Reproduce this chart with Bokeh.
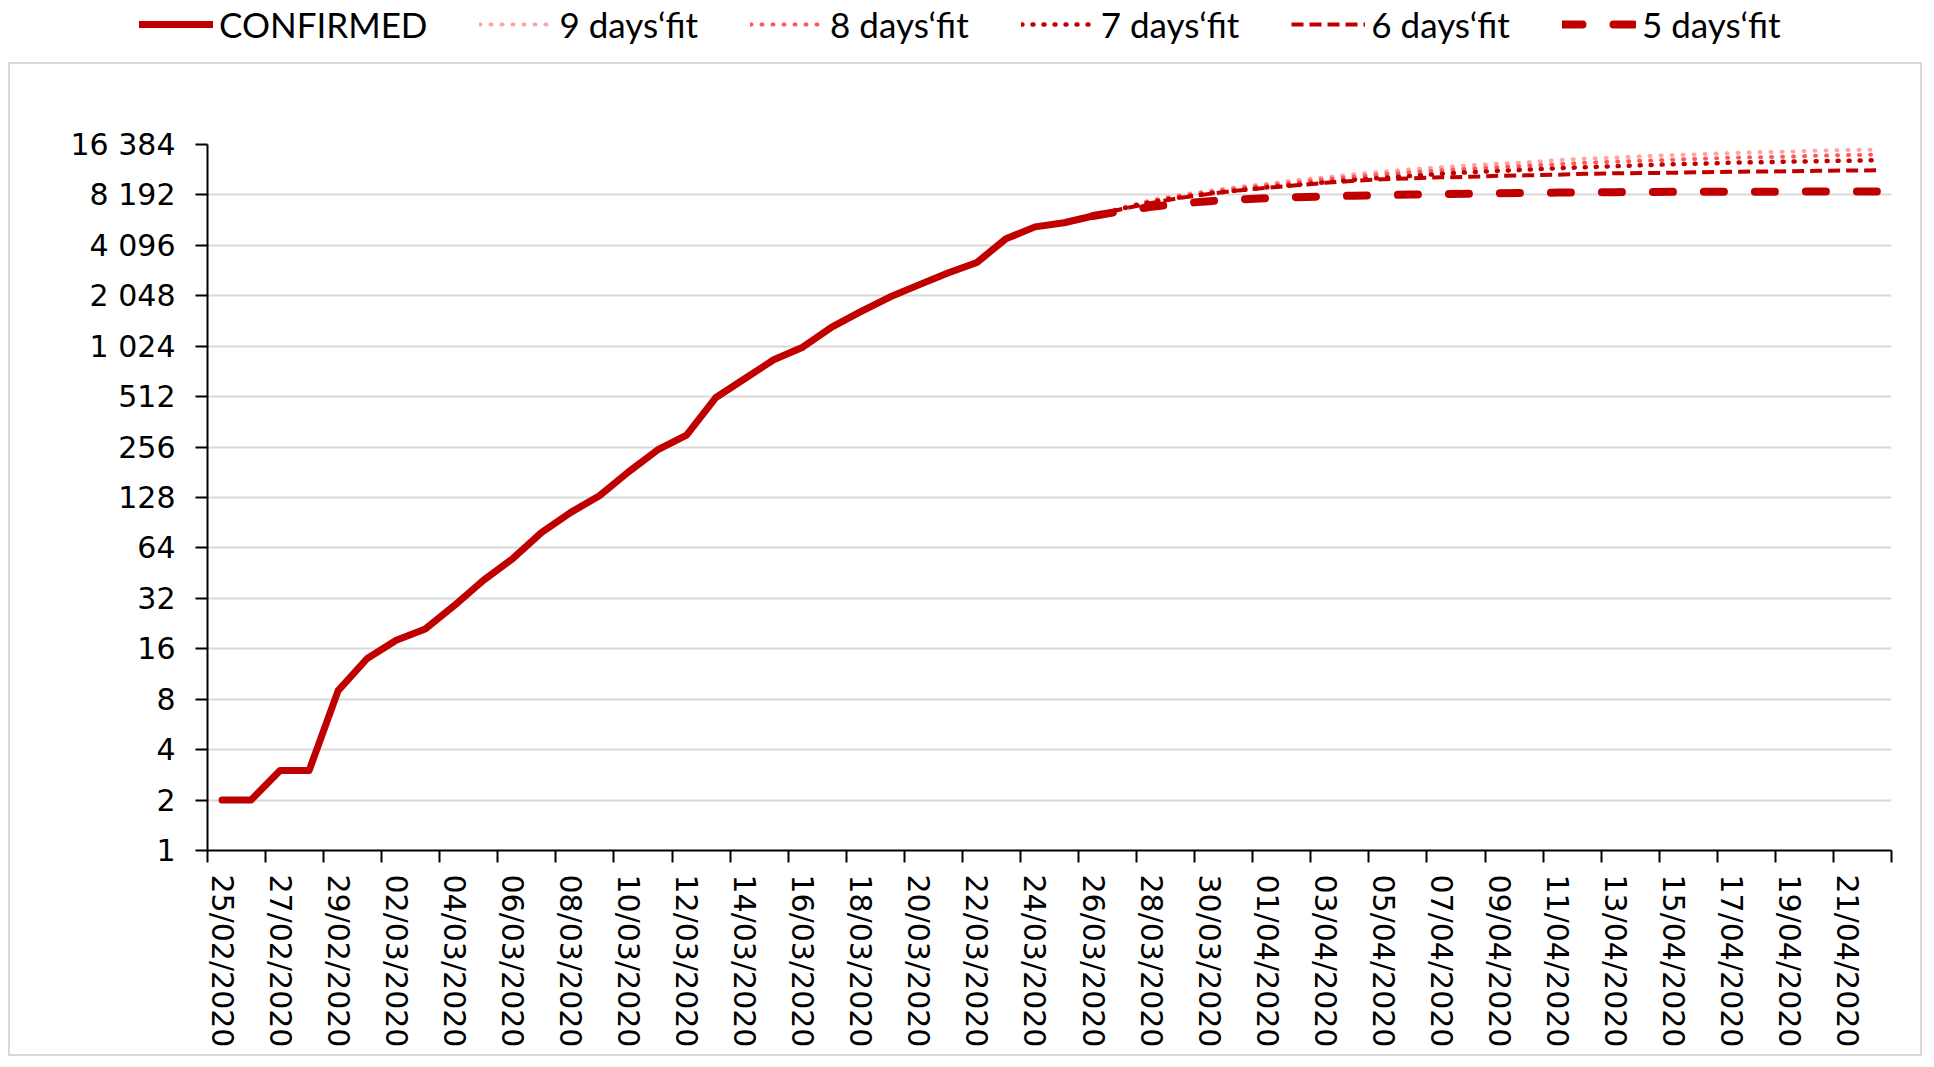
from bokeh.plotting import figure
from bokeh.models import Range1d, FixedTicker, Legend, LegendItem, LinearAxis
from bokeh.layouts import column
from bokeh.embed import file_html
from bokeh.resources import INLINE

# ---------------- data ----------------
dates = [
    "25/02/2020", "26/02/2020", "27/02/2020", "28/02/2020", "29/02/2020",
    "01/03/2020", "02/03/2020", "03/03/2020", "04/03/2020", "05/03/2020",
    "06/03/2020", "07/03/2020", "08/03/2020", "09/03/2020", "10/03/2020",
    "11/03/2020", "12/03/2020", "13/03/2020", "14/03/2020", "15/03/2020",
    "16/03/2020", "17/03/2020", "18/03/2020", "19/03/2020", "20/03/2020",
    "21/03/2020", "22/03/2020", "23/03/2020", "24/03/2020", "25/03/2020",
    "26/03/2020", "27/03/2020", "28/03/2020", "29/03/2020", "30/03/2020",
    "31/03/2020", "01/04/2020", "02/04/2020", "03/04/2020", "04/04/2020",
    "05/04/2020", "06/04/2020", "07/04/2020", "08/04/2020", "09/04/2020",
    "10/04/2020", "11/04/2020", "12/04/2020", "13/04/2020", "14/04/2020",
    "15/04/2020", "16/04/2020", "17/04/2020", "18/04/2020", "19/04/2020",
    "20/04/2020", "21/04/2020", "22/04/2020",
]

# CONFIRMED, from 25/02/2020 to 26/03/2020
confirmed = [2, 2, 3, 3, 9, 14, 18, 21, 29, 41, 55, 79, 104, 131, 182, 246,
             302, 504, 655, 850, 1010, 1332, 1646, 2013, 2380, 2800, 3240,
             4480, 5280, 5590, 6130]

# fits, from 26/03/2020 to 22/04/2020
fit_start = "26/03/2020"
fit_9 = [6130, 6890, 7640, 8190, 8660, 9150, 9540, 10020, 10440, 10880, 11270,
         11670, 11990, 12330, 12590, 12850, 13220, 13490, 13680, 13970, 14160,
         14360, 14560, 14760, 14870, 15070, 15180, 15280]
fit_8 = [6130, 6840, 7540, 8080, 8540, 8970, 9350, 9740, 10160, 10510, 10880,
         11190, 11510, 11750, 12000, 12250, 12500, 12760, 12940, 13120, 13300,
         13490, 13680, 13770, 13870, 14060, 14160, 14260]
fit_7 = [6130, 6790, 7430, 7910, 8360, 8720, 9090, 9410, 9740, 10090, 10370,
         10660, 10960, 11190, 11420, 11590, 11830, 11990, 12160, 12330, 12500,
         12590, 12760, 12850, 12940, 13030, 13120, 13210]
fit_6 = [6130, 6750, 7330, 7860, 8310, 8720, 9030, 9350, 9670, 9950, 10160,
         10300, 10440, 10510, 10660, 10730, 10810, 10960, 11030, 11070, 11110,
         11190, 11270, 11300, 11340, 11420, 11450, 11500]
fit_5 = [6130, 6560, 6950, 7280, 7520, 7700, 7830, 7940, 8030, 8110, 8170,
         8230, 8280, 8330, 8380, 8420, 8460, 8490, 8510, 8530, 8545, 8555,
         8565, 8570, 8575, 8580, 8582, 8585]

series_labels = ["CONFIRMED", "9 days\u2018fit", "8 days\u2018fit",
                 "7 days\u2018fit", "6 days\u2018fit", "5 days\u2018fit"]

y_ticks = [1, 2, 4, 8, 16, 32, 64, 128, 256, 512, 1024, 2048, 4096, 8192, 16384]
y_tick_labels = ["1", "2", "4", "8", "16", "32", "64", "128", "256", "512",
                 "1 024", "2 048", "4 096", "8 192", "16 384"]
x_tick_labels = dates[0::2]

# ---------------- styles ----------------
RED = "#C00000"
styles = [
    dict(line_color=RED, line_width=7, line_dash="solid", line_cap="round"),
    dict(line_color="#FFA3A3", line_width=4, line_dash="1 10", line_cap="round"),
    dict(line_color="#FF5757", line_width=4, line_dash="1 10", line_cap="round"),
    dict(line_color=RED, line_width=4.5, line_dash="1 10", line_cap="round"),
    dict(line_color=RED, line_width=4, line_dash="12 6", line_cap="butt"),
    dict(line_color=RED, line_width=8, line_dash="20 31", line_cap="round"),
]

TICK_FONT = "DejaVu Sans"

# ---------------- main chart ----------------
n_cat = len(dates)
p = figure(width=1914, height=994,
           x_range=Range1d(0, n_cat), y_range=Range1d(1, 16384),
           y_axis_type="log", x_axis_type=None,
           output_backend="svg", toolbar_location=None,
           min_border_left=197, min_border_right=33,
           min_border_top=80, min_border_bottom=208)
p.outline_line_color = None
p.frame_align = False
p.styles = {"border": "2px solid #D9D9D9"}

# x axis: ticks between categories, labels centred on every second category
cat_centres = [i + 0.5 for i in range(0, n_cat, 2)]
boundaries = list(range(0, n_cat + 1, 2))
xax = LinearAxis(ticker=FixedTicker(ticks=cat_centres, minor_ticks=boundaries))
xax.major_label_overrides = {c: lab for c, lab in zip(cat_centres, x_tick_labels)}
xax.major_label_orientation = "vertical"
xax.major_label_text_font = TICK_FONT
xax.major_label_text_font_size = "30px"
xax.major_label_text_color = "#000000"
xax.major_label_standoff = 12
xax.major_tick_line_color = None
xax.major_tick_out = 12
xax.major_tick_in = 0
xax.minor_tick_line_color = "#000000"
xax.minor_tick_line_width = 2
xax.minor_tick_out = 12
xax.minor_tick_in = 0
xax.axis_line_color = "#000000"
xax.axis_line_width = 2
p.add_layout(xax, "below")

yax = p.yaxis[0]
yax.ticker = FixedTicker(ticks=y_ticks, minor_ticks=[])
yax.major_label_overrides = {t: lab for t, lab in zip(y_ticks, y_tick_labels)}
yax.major_label_text_font = TICK_FONT
yax.major_label_text_font_size = "30px"
yax.major_label_text_color = "#000000"
yax.major_label_standoff = 20
yax.major_tick_line_color = "#000000"
yax.major_tick_line_width = 2
yax.major_tick_out = 12
yax.major_tick_in = 0
yax.minor_tick_line_color = None
yax.axis_line_color = "#000000"
yax.axis_line_width = 2

p.ygrid.grid_line_color = "#D9D9D9"
p.ygrid.grid_line_width = 2
p.xgrid.grid_line_color = None

x_conf = [i + 0.5 for i in range(len(confirmed))]
i0 = dates.index(fit_start)
x_fit = [i0 + k + 0.5 for k in range(len(fit_9))]

all_series = [(x_conf, confirmed), (x_fit, fit_9), (x_fit, fit_8),
              (x_fit, fit_7), (x_fit, fit_6), (x_fit, fit_5)]
for (xs, ys), st in zip(all_series, styles):
    p.line(xs, ys, line_join="round", **st)

# ---------------- legend strip ----------------
leg = figure(width=1918, height=62, x_range=Range1d(0, 1), y_range=Range1d(0, 1),
             x_axis_type=None, y_axis_type=None,
             output_backend="svg", toolbar_location=None,
             min_border_left=0, min_border_right=0,
             min_border_top=0, min_border_bottom=0)
leg.frame_align = False
leg.outline_line_color = None
leg.xgrid.grid_line_color = None
leg.ygrid.grid_line_color = None
nan = float("nan")
items = []
for lab, st in zip(series_labels, styles):
    # legend-only renderer: a single undefined point, nothing drawn
    r = leg.line(x=[nan], y=[nan], **st)
    items.append(LegendItem(label=lab, renderers=[r]))
legend = Legend(items=items, orientation="horizontal", location=(131, 17),
                glyph_width=74, glyph_height=40, label_height=40,
                label_standoff=6, spacing=52,
                label_text_font="Lato",
                label_text_font_size="35px", label_text_color="#000000",
                border_line_color=None, background_fill_alpha=0,
                padding=0, margin=0)
leg.add_layout(legend, "center")

layout = column(leg, p, spacing=0)
layout.margin = (0, 0, 0, 8)
open("out.html", "w").write(file_html(layout, INLINE))
